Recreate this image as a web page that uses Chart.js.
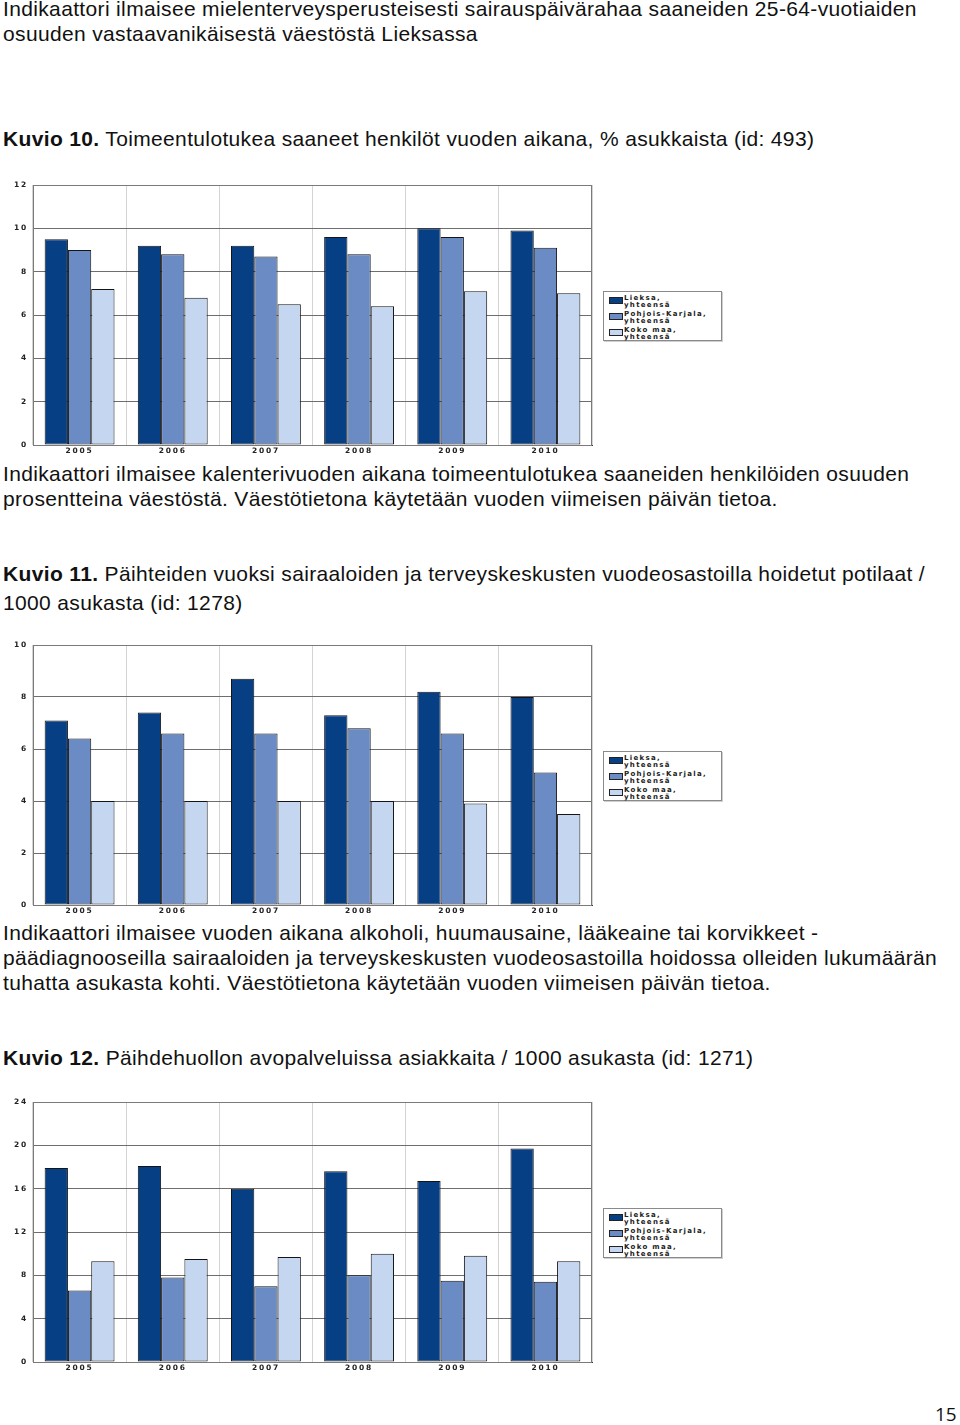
<!DOCTYPE html>
<html lang="fi">
<head>
<meta charset="utf-8">
<title>Kuviot 10-12</title>
<script src="https://cdn.jsdelivr.net/npm/chart.js@4.4.1/dist/chart.umd.min.js"></script>
<style>
    html, body {
        margin: 0;
        padding: 0;
        background: #fff;
        width: 960px;
        height: 1425px;
        overflow: hidden;
    }
    .line {
        position: absolute;
        left: 3px;
        font-family: "Liberation Sans", Arial, sans-serif;
        font-size: 21px;
        letter-spacing: 0.35px;
        line-height: 25px;
        color: #111;
        white-space: nowrap;
    }
    .chartBox {
        position: absolute;
        left: 0;
        width: 600px;
        height: 285px;
    }
    .legendBox {
        position: absolute;
        left: 603px;
        width: 117px;
        height: 48px;
        border: 1px solid #8a8a8a;
        box-shadow: 1px 1px 0 #cfcfcf;
        background: #fff;
    }
    .legendItem {
        position: absolute;
        left: 5px;
        font-family: "DejaVu Sans", Verdana, sans-serif;
        font-weight: bold;
        font-size: 7px;
        line-height: 7px;
        letter-spacing: 1.3px;
        color: #222;
        white-space: nowrap;
    }
    .legendItem span.swatch {
        position: absolute;
        left: 0;
        top: 2px;
        width: 12px;
        height: 5px;
        border: 1px solid #222;
    }
    .legendItem span.txt {
        position: absolute;
        left: 15px;
        top: 0;
    }
    #pageNo {
        position: absolute;
        left: 935px;
        top: 1402px;
        font-family: "Open Sans", "Liberation Sans", sans-serif;
        font-size: 19px;
        line-height: 25px;
        color: #111;
    }
</style>
</head>
<body>

<div class="line" style="top:-4px;">Indikaattori ilmaisee mielenterveysperusteisesti sairauspäivärahaa saaneiden 25-64-vuotiaiden</div>
<div class="line" style="top:21px;">osuuden vastaavanikäisestä väestöstä Lieksassa</div>

<div class="line" style="top:126px;"><b>Kuvio 10.</b> Toimeentulotukea saaneet henkilöt vuoden aikana, % asukkaista (id: 493)</div>
<div class="chartBox" style="top:175px;"><canvas id="kuvio10"></canvas></div>
<div class="legendBox" id="legend10" style="top:291px;"></div>
<div class="line" style="top:461px;">Indikaattori ilmaisee kalenterivuoden aikana toimeentulotukea saaneiden henkilöiden osuuden</div>
<div class="line" style="top:486px;">prosentteina väestöstä. Väestötietona käytetään vuoden viimeisen päivän tietoa.</div>

<div class="line" style="top:561px;"><b>Kuvio 11.</b> Päihteiden vuoksi sairaaloiden ja terveyskeskusten vuodeosastoilla hoidetut potilaat /</div>
<div class="line" style="top:590px;">1000 asukasta (id: 1278)</div>
<div class="chartBox" style="top:635px;"><canvas id="kuvio11"></canvas></div>
<div class="legendBox" id="legend11" style="top:751px;"></div>
<div class="line" style="top:920px;">Indikaattori ilmaisee vuoden aikana alkoholi, huumausaine, lääkeaine tai korvikkeet -</div>
<div class="line" style="top:945px;">päädiagnooseilla sairaaloiden ja terveyskeskusten vuodeosastoilla hoidossa olleiden lukumäärän</div>
<div class="line" style="top:970px;">tuhatta asukasta kohti. Väestötietona käytetään vuoden viimeisen päivän tietoa.</div>

<div class="line" style="top:1045px;"><b>Kuvio 12.</b> Päihdehuollon avopalveluissa asiakkaita / 1000 asukasta (id: 1271)</div>
<div class="chartBox" style="top:1092px;"><canvas id="kuvio12"></canvas></div>
<div class="legendBox" id="legend12" style="top:1208px;"></div>

<div id="pageNo">15</div>

<script>
// categories and series
const years = ['2005', '2006', '2007', '2008', '2009', '2010'];
const seriesNames = ['Lieksa, yhteensä', 'Pohjois-Karjala, yhteensä', 'Koko maa, yhteensä'];
const seriesColors = ['#073f85', '#6b8bc4', '#c5d7f0'];

// Kuvio 10: toimeentulotukea saaneet, %
const k10Lieksa = [9.5, 9.2, 9.2, 9.6, 10.0, 9.9];
const k10PohjoisKarjala = [9.0, 8.8, 8.7, 8.8, 9.6, 9.1];
const k10KokoMaa = [7.2, 6.8, 6.5, 6.4, 7.1, 7.0];
const k10Ticks = [0, 2, 4, 6, 8, 10, 12];

// Kuvio 11: päihteiden vuoksi hoidetut potilaat / 1000
const k11Lieksa = [7.1, 7.4, 8.7, 7.3, 8.2, 8.0];
const k11PohjoisKarjala = [6.4, 6.6, 6.6, 6.8, 6.6, 5.1];
const k11KokoMaa = [4.0, 4.0, 4.0, 4.0, 3.9, 3.5];
const k11Ticks = [0, 2, 4, 6, 8, 10];

// Kuvio 12: päihdehuollon avopalvelujen asiakkaat / 1000
const k12Lieksa = [17.9, 18.1, 16.0, 17.6, 16.7, 19.7];
const k12PohjoisKarjala = [6.6, 7.8, 7.0, 8.0, 7.5, 7.4];
const k12KokoMaa = [9.3, 9.5, 9.7, 10.0, 9.8, 9.3];
const k12Ticks = [0, 4, 8, 12, 16, 20, 24];

const tickFont = {family: '"DejaVu Sans", Verdana, sans-serif', size: 7.5, weight: 'bold'};

// small letter spacing for the canvas tick labels, and a grey frame round the plot
const framePlugin = {
    id: 'frame',
    beforeDraw: function (chart) {
        chart.ctx.letterSpacing = '1.8px';
    },
    afterDraw: function (chart) {
        const a = chart.chartArea;
        const ctx = chart.ctx;
        ctx.save();
        ctx.strokeStyle = '#7a7a7a';
        ctx.lineWidth = 1;
        ctx.strokeRect(Math.round(a.left) + 0.5, Math.round(a.top) + 0.5,
            Math.round(a.right - a.left) - 1, Math.round(a.bottom - a.top));
        ctx.restore();
    }
};

function buildLegend(elId) {
    const box = document.getElementById(elId);
    seriesNames.forEach(function (name, i) {
        let item = document.createElement('div');
        item.className = 'legendItem';
        item.style.top = (3 + i * 16) + 'px';
        let sw = document.createElement('span');
        sw.className = 'swatch';
        sw.style.background = seriesColors[i];
        let txt = document.createElement('span');
        txt.className = 'txt';
        // break after the comma like the original legend
        txt.innerHTML = name.replace(', ', ',<br>');
        item.appendChild(sw);
        item.appendChild(txt);
        box.appendChild(item);
    });
}

function makeChart(canvasId, lieksa, pohjoisKarjala, kokoMaa, ticks) {
    const ctx = document.getElementById(canvasId).getContext('2d');
    const values = [lieksa, pohjoisKarjala, kokoMaa];
    const stepSize = ticks[1] - ticks[0];

    return new Chart(ctx, {
        type: 'bar',
        data: {
            labels: years,
            datasets: values.map((v, i) => ({
                label: seriesNames[i],
                data: v,
                backgroundColor: seriesColors[i],
                borderColor: '#151515',
                borderWidth: 1,
                borderSkipped: false,
                categoryPercentage: 0.75,
                barPercentage: 1.0
            }))
        },
        options: {
            responsive: true,
            maintainAspectRatio: false,
            animation: false,
            events: [],
            layout: {
                padding: {top: 10, right: 8, left: 0, bottom: 0}
            },
            plugins: {
                legend: {display: false},
                tooltip: {enabled: false}
            },
            scales: {
                x: {
                    offset: true,
                    grid: {
                        offset: true,
                        color: '#d4d4d4',
                        drawTicks: false
                    },
                    border: {color: '#333', width: 1},
                    ticks: {
                        font: tickFont,
                        color: '#222',
                        padding: 2,
                        maxRotation: 0
                    },
                    afterFit: function (scale) {
                        scale.height = 15;
                    }
                },
                y: {
                    min: ticks[0],
                    max: ticks[ticks.length - 1],
                    grid: {
                        color: '#6e6e6e',
                        drawTicks: false
                    },
                    border: {color: '#555', width: 1},
                    ticks: {
                        stepSize: stepSize,
                        font: tickFont,
                        color: '#222',
                        padding: 5
                    },
                    afterFit: function (scale) {
                        scale.width = 33;
                    }
                }
            }
        },
        plugins: [framePlugin]
    });
}

makeChart('kuvio10', k10Lieksa, k10PohjoisKarjala, k10KokoMaa, k10Ticks);
makeChart('kuvio11', k11Lieksa, k11PohjoisKarjala, k11KokoMaa, k11Ticks);
makeChart('kuvio12', k12Lieksa, k12PohjoisKarjala, k12KokoMaa, k12Ticks);
buildLegend('legend10');
buildLegend('legend11');
buildLegend('legend12');
</script>
</body>
</html>
